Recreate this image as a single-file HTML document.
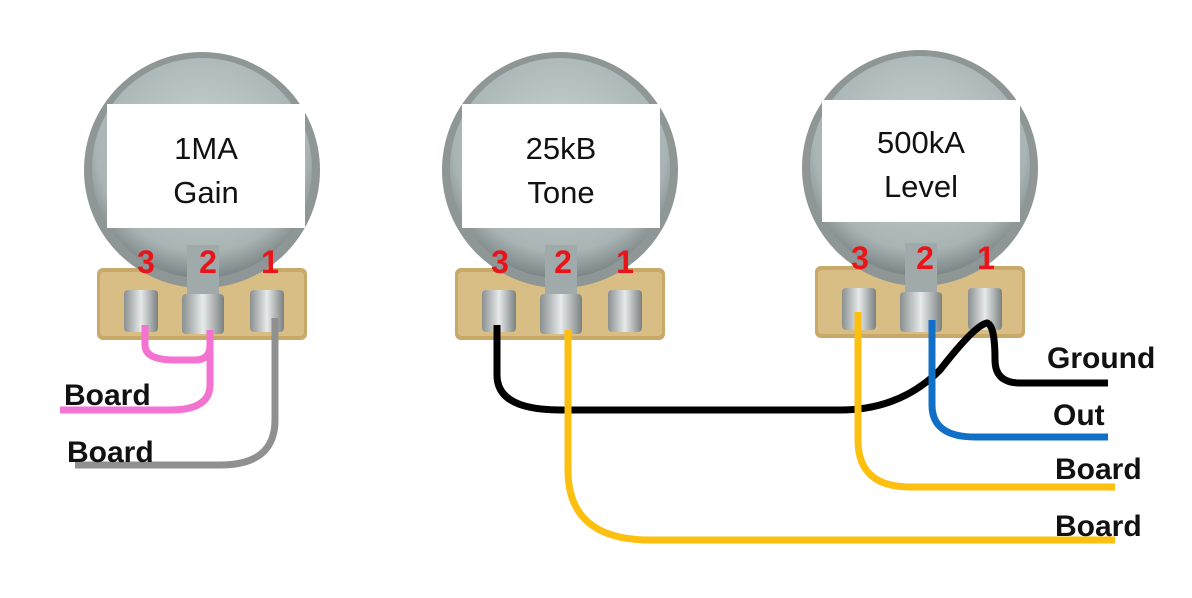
<!DOCTYPE html>
<html><head><meta charset="utf-8"><style>
html,body{margin:0;padding:0;background:#fff;}
svg{display:block}
text{font-family:"Liberation Sans",sans-serif;}
</style></head><body>
<svg width="1192" height="598" viewBox="0 0 1192 598" xmlns="http://www.w3.org/2000/svg">
<defs>
<radialGradient id="m" cx="50%" cy="40%" r="60%">
<stop offset="0" stop-color="#c9d3d3"/><stop offset="0.8" stop-color="#a9b4b4"/><stop offset="1" stop-color="#7d8686"/>
</radialGradient>
<linearGradient id="lug" x1="0" x2="1"><stop offset="0" stop-color="#8a8f8f"/><stop offset="0.5" stop-color="#e6eaea"/><stop offset="1" stop-color="#7b8080"/></linearGradient>
<g id="pot">
<rect x="15" y="218" width="210" height="72" rx="6" fill="#c9a96a"/>
<rect x="18" y="222" width="204" height="64" rx="4" fill="#d8bd84"/>
<circle cx="120" cy="120" r="118" fill="#8e9696"/>
<circle cx="120" cy="118" r="110" fill="url(#m)"/>
<rect x="105" y="195" width="32" height="50" fill="#a0aaaa"/>
<rect x="42" y="240" width="34" height="42" rx="4" fill="url(#lug)"/>
<rect x="100" y="244" width="42" height="40" rx="4" fill="url(#lug)"/>
<rect x="168" y="240" width="34" height="42" rx="4" fill="url(#lug)"/>
</g>
</defs>
<use href="#pot" x="82" y="50"/>
<use href="#pot" x="440" y="50"/>
<use href="#pot" x="800" y="48"/>
<rect x="107" y="104" width="198" height="124" fill="#fff"/>
<rect x="462" y="104" width="198" height="124" fill="#fff"/>
<rect x="822" y="100" width="198" height="122" fill="#fff"/>
<g font-size="31" text-anchor="middle" fill="#111">
<text x="206" y="159">1MA</text><text x="206" y="203">Gain</text>
<text x="561" y="159">25kB</text><text x="561" y="203">Tone</text>
<text x="921" y="153">500kA</text><text x="921" y="197">Level</text>
</g>
<g font-size="32" font-weight="bold" fill="#e8141a" text-anchor="middle">
<text x="146" y="273">3</text><text x="208" y="273">2</text><text x="270" y="273">1</text>
<text x="500" y="273">3</text><text x="563" y="273">2</text><text x="625" y="273">1</text>
<text x="860" y="269">3</text><text x="925" y="269">2</text><text x="986" y="269">1</text>
</g>
<g fill="none" stroke-width="7" stroke-linecap="butt">
<path d="M145 325 V345 Q145 360 175 360 H195 Q210 360 210 345 V330" stroke="#f472d0"/>
<path d="M210 345 V385 Q210 410 170 410 H60" stroke="#f472d0"/>
<path d="M275 318 V420 Q275 465 220 465 H75" stroke="#909090"/>
<path d="M497 325 V375 Q497 410 560 410 H840 Q900 410 940 370 Q975 325 987 323 Q995 325 995 360 Q995 383 1020 383 H1108" stroke="#000"/>
<path d="M568 330 V470 Q568 540 650 540 H1115" stroke="#fdbf10"/>
<path d="M858 312 V440 Q858 487 910 487 H1115" stroke="#fdbf10"/>
<path d="M932 320 V405 Q932 437 975 437 H1108" stroke="#1070c8"/>
</g>
<g font-size="30" font-weight="bold" fill="#111">
<text x="64" y="405">Board</text>
<text x="67" y="462">Board</text>
<text x="1047" y="368">Ground</text>
<text x="1053" y="425">Out</text>
<text x="1055" y="479">Board</text>
<text x="1055" y="536">Board</text>
</g>
</svg>
</body></html>
